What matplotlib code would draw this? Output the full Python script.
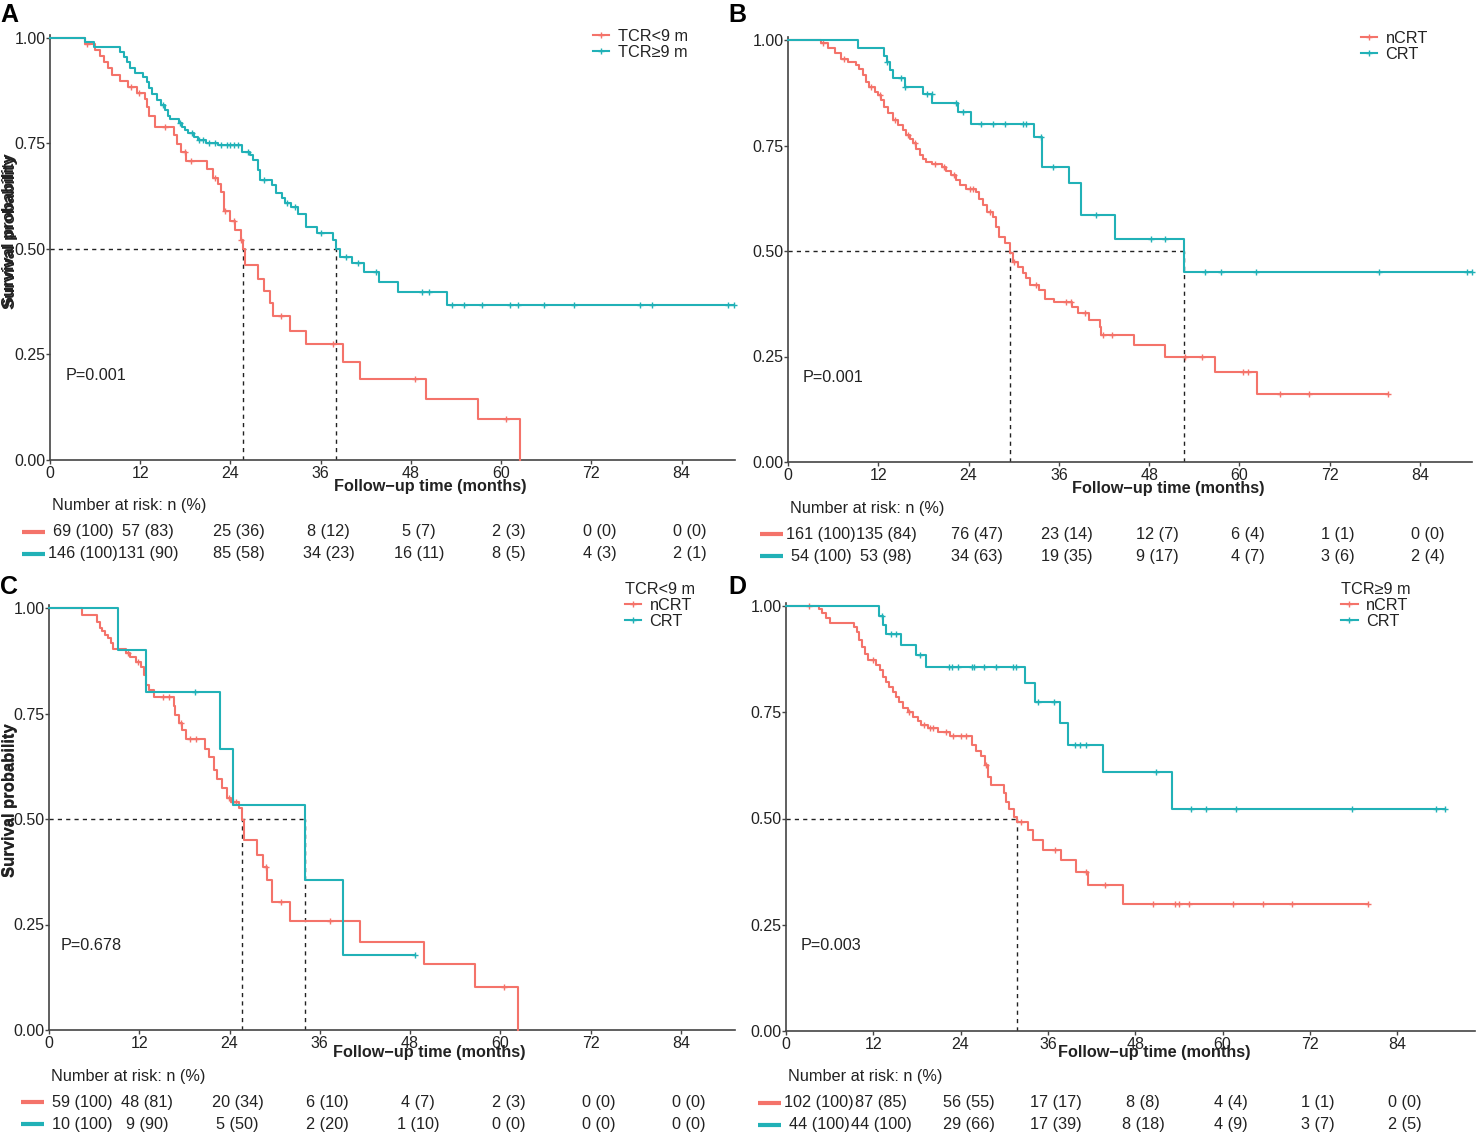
import numpy as np
import matplotlib
matplotlib.use("Agg")
import matplotlib.pyplot as plt
from matplotlib.lines import Line2D
from matplotlib.transforms import ScaledTranslation

plt.rcParams['font.family'] = ['Liberation Sans', 'DejaVu Sans']

W, H = 1477, 1137
RED = '#F4736A'
TEAL = '#21B1B7'
INK = '#222222'
FS = 11.7

risk_times = [0, 12, 24, 36, 48, 60, 72, 84]

# ---- panel A: TCR<9 m vs TCR>=9 m
a_red_t = [4.7, 6.0, 6.6, 7.2, 7.7, 8.3, 9.3, 10.4, 11.6, 12.6, 12.9, 13.2, 14.0,
           16.5, 16.9, 17.4, 18.1, 20.9, 21.7, 22.3, 22.8, 23.1, 23.9, 24.6, 25.4,
           25.7, 25.9, 27.7, 28.4, 29.2, 29.6, 31.9, 34.1, 39.0, 41.2, 50.0, 56.9, 62.5]
a_red_s = [0.986, 0.971, 0.957, 0.942, 0.928, 0.913, 0.899, 0.884, 0.870, 0.855, 0.836,
           0.816, 0.790, 0.770, 0.748, 0.730, 0.708, 0.690, 0.668, 0.654, 0.636, 0.590,
           0.566, 0.545, 0.522, 0.500, 0.462, 0.430, 0.400, 0.371, 0.341, 0.306, 0.274,
           0.233, 0.193, 0.145, 0.096, 0.0]
a_red_cens = [4.9, 10.8, 11.8, 15.3, 18.0, 18.8, 22.0, 23.3, 24.5, 25.4, 30.7, 37.7,
              48.6, 60.7]
a_teal_t = [4.7, 5.8, 9.3, 9.8, 10.3, 10.7, 11.3, 12.4, 12.9, 13.2, 13.5, 14.2, 14.8,
            15.3, 15.7, 16.0, 17.1, 17.5, 17.9, 18.4, 19.1, 19.7, 20.8, 22.4, 25.5,
            26.6, 27.0, 27.7, 27.9, 29.5, 30.1, 30.8, 31.2, 32.1, 33.0, 34.1, 35.5,
            37.7, 38.0, 38.6, 40.1, 41.7, 43.7, 46.3, 52.8]
a_teal_s = [0.991, 0.979, 0.967, 0.956, 0.944, 0.930, 0.916, 0.908, 0.896, 0.881, 0.867,
            0.853, 0.842, 0.830, 0.814, 0.808, 0.799, 0.790, 0.782, 0.774, 0.766, 0.758,
            0.752, 0.746, 0.730, 0.722, 0.711, 0.687, 0.664, 0.652, 0.632, 0.620, 0.608,
            0.600, 0.584, 0.552, 0.537, 0.521, 0.500, 0.482, 0.466, 0.446, 0.422, 0.399,
            0.367]
a_teal_cens = [15.0, 17.3, 18.9, 19.8, 20.3, 21.2, 22.0, 22.8, 23.5, 24.0, 24.5, 25.0,
               26.3, 28.4, 31.5, 32.6, 36.0, 39.3, 41.0, 43.4, 49.5, 50.4, 53.4, 55.1,
               57.5, 61.2, 62.2, 65.7, 69.7, 78.5, 80.0, 90.2, 91.0]
a_risk_red = ['69 (100)', '57 (83)', '25 (36)', '8 (12)', '5 (7)', '2 (3)', '0 (0)', '0 (0)']
a_risk_teal = ['146 (100)', '131 (90)', '85 (58)', '34 (23)', '16 (11)', '8 (5)', '4 (3)', '2 (1)']

# ---- panel B: nCRT vs CRT
b_red_t = [4.4, 5.3, 6.2, 7.1, 8.0, 9.1, 9.5, 10.0, 10.4, 10.8, 11.5, 12.0, 12.4, 12.8,
           13.3, 13.9, 14.6, 15.3, 15.7, 16.2, 16.6, 17.0, 17.5, 17.9, 18.4, 19.2, 20.4,
           21.0, 21.7, 22.3, 22.8, 23.7, 25.0, 25.4, 25.9, 26.5, 27.2, 27.7, 28.1, 28.8,
           29.5, 29.9, 30.5, 31.2, 31.6, 32.1, 33.4, 34.1, 35.4, 37.8, 38.5, 40.0, 41.4,
           41.6, 46.0, 50.1, 56.7, 62.3]
b_red_s = [0.994, 0.981, 0.969, 0.956, 0.948, 0.940, 0.932, 0.916, 0.901, 0.889, 0.877,
           0.869, 0.858, 0.842, 0.826, 0.810, 0.798, 0.787, 0.775, 0.765, 0.755, 0.741,
           0.727, 0.719, 0.711, 0.707, 0.699, 0.690, 0.680, 0.668, 0.656, 0.648, 0.640,
           0.624, 0.608, 0.593, 0.581, 0.557, 0.534, 0.518, 0.495, 0.475, 0.463, 0.449,
           0.435, 0.419, 0.407, 0.387, 0.379, 0.368, 0.352, 0.336, 0.320, 0.300, 0.277,
           0.248, 0.213, 0.161]
b_red_cens = [4.6, 7.5, 11.0, 12.2, 14.2, 16.0, 16.9, 19.5, 20.7, 22.0, 24.2, 24.6, 26.8,
              30.1, 33.0, 37.0, 37.6, 39.5, 41.9, 43.0, 52.8, 55.0, 60.5, 61.1, 65.4,
              69.3, 79.8]
b_teal_t = [9.3, 12.8, 13.1, 13.5, 13.9, 15.5, 17.9, 19.2, 22.6, 24.3, 32.7, 33.8, 37.4,
            38.9, 43.4, 52.6]
b_teal_s = [0.981, 0.962, 0.948, 0.929, 0.909, 0.889, 0.873, 0.850, 0.830, 0.802, 0.771,
            0.700, 0.660, 0.585, 0.529, 0.451]
b_teal_cens = [13.2, 15.0, 15.5, 18.5, 19.1, 22.3, 23.2, 25.7, 27.2, 28.8, 31.2, 31.6,
               33.6, 35.2, 40.9, 48.2, 50.1, 55.4, 57.5, 62.2, 78.5, 90.2, 90.9]
b_risk_red = ['161 (100)', '135 (84)', '76 (47)', '23 (14)', '12 (7)', '6 (4)', '1 (1)', '0 (0)']
b_risk_teal = ['54 (100)', '53 (98)', '34 (63)', '19 (35)', '9 (17)', '4 (7)', '3 (6)', '2 (4)']

# ---- panel C: TCR<9 m, nCRT vs CRT
c_red_t = [4.4, 6.4, 6.8, 7.1, 7.4, 7.8, 8.2, 8.5, 10.2, 10.8, 11.5, 12.2, 12.6, 12.9,
           13.3, 14.0, 16.6, 16.8, 17.3, 17.7, 18.2, 20.8, 21.3, 21.9, 22.4, 23.0, 23.7,
           24.2, 25.3, 25.6, 25.9, 27.7, 28.4, 29.0, 29.7, 32.1, 41.4, 49.9, 56.7, 62.3]
c_red_s = [0.983, 0.966, 0.953, 0.945, 0.936, 0.928, 0.916, 0.902, 0.893, 0.885, 0.873,
           0.861, 0.841, 0.818, 0.806, 0.790, 0.768, 0.746, 0.727, 0.711, 0.689, 0.667,
           0.648, 0.616, 0.595, 0.573, 0.549, 0.541, 0.525, 0.497, 0.450, 0.415, 0.387,
           0.355, 0.304, 0.259, 0.209, 0.156, 0.103, 0.0]
c_red_cens = [10.5, 11.8, 15.2, 15.9, 17.5, 18.8, 19.5, 23.9, 24.5, 24.9, 28.8, 30.8,
              37.4, 60.5]
c_teal_t = [9.2, 12.9, 22.7, 24.5, 34.1, 39.1]
c_teal_s = [0.900, 0.800, 0.667, 0.533, 0.356, 0.178]
c_teal_cens = [19.4, 48.6]
c_risk_red = ['59 (100)', '48 (81)', '20 (34)', '6 (10)', '4 (7)', '2 (3)', '0 (0)', '0 (0)']
c_risk_teal = ['10 (100)', '9 (90)', '5 (50)', '2 (20)', '1 (10)', '0 (0)', '0 (0)', '0 (0)']

# ---- panel D: TCR>=9 m, nCRT vs CRT
d_red_t = [4.6, 5.0, 5.5, 6.0, 9.4, 9.7, 10.1, 10.4, 10.8, 11.3, 12.4, 12.9, 13.3, 13.8,
           14.2, 14.7, 15.1, 15.6, 16.1, 16.7, 17.4, 18.1, 18.6, 19.5, 20.9, 22.5, 25.5,
           26.1, 26.8, 27.3, 27.8, 28.2, 30.0, 30.3, 30.7, 31.4, 31.7, 33.3, 33.9, 35.3,
           37.8, 39.9, 41.5, 46.3]
d_red_s = [0.993, 0.984, 0.971, 0.959, 0.951, 0.940, 0.920, 0.904, 0.888, 0.873, 0.861,
           0.849, 0.833, 0.822, 0.810, 0.798, 0.786, 0.773, 0.759, 0.750, 0.740, 0.730,
           0.720, 0.712, 0.704, 0.694, 0.673, 0.660, 0.646, 0.627, 0.598, 0.579, 0.559,
           0.540, 0.523, 0.504, 0.492, 0.473, 0.450, 0.426, 0.402, 0.375, 0.344, 0.300]
d_red_cens = [3.2, 12.0, 16.9, 19.0, 19.8, 20.2, 22.0, 23.0, 24.0, 24.8, 27.5, 32.3,
              37.0, 41.2, 43.8, 50.4, 53.5, 54.0, 55.4, 61.5, 65.6, 69.5, 80.0]
d_teal_t = [12.8, 13.3, 13.7, 15.8, 17.9, 19.3, 32.9, 34.2, 37.6, 38.8, 43.6, 53.0]
d_teal_s = [0.977, 0.955, 0.935, 0.908, 0.885, 0.857, 0.818, 0.775, 0.724, 0.673, 0.610,
            0.523]
d_teal_cens = [13.2, 14.5, 15.1, 18.4, 22.4, 22.8, 23.6, 25.5, 25.9, 27.2, 28.8, 31.2,
               31.6, 34.6, 36.9, 39.7, 40.4, 41.3, 50.9, 55.7, 57.7, 61.8, 77.8, 89.3,
               90.6]
d_risk_red = ['102 (100)', '87 (85)', '56 (55)', '17 (17)', '8 (8)', '4 (4)', '1 (1)', '0 (0)']
d_risk_teal = ['44 (100)', '44 (100)', '29 (66)', '17 (39)', '8 (18)', '4 (9)', '3 (7)', '2 (5)']


fig = plt.figure(figsize=(W / 100, H / 100), dpi=100)


def km_line(ax, t, s, cens, color):
    t = np.asarray(t)
    s = np.asarray(s)
    end = max(t[-1], max(cens))
    xs = np.concatenate([[0], t, [end]])
    ys = np.concatenate([[1.0], s, [s[-1]]])
    ax.step(xs, ys, where='post', color=color, lw=1.5, clip_on=False, zorder=3)
    idx = np.searchsorted(t, cens, side='right')
    level = np.concatenate([[1.0], s])[idx]
    ax.plot(cens, level, '+', color=color, ms=5, mew=1.0, clip_on=False, zorder=3)
    below = t[s <= 0.5]
    return below[0] if len(below) else None


def below_axis(ax, dx_px, dy_px):
    return ax.get_xaxis_transform() + ScaledTranslation(dx_px / 100, -dy_px / 100,
                                                        fig.dpi_scale_trans)


panels = [
    dict(letter='A', lpos=(0, 3), box=(50, 460, 735, 35), xmax=91.1, ppu=422,
         groups=[(a_red_t, a_red_s, a_red_cens, RED, 'TCR<9 m', a_risk_red),
                 (a_teal_t, a_teal_s, a_teal_cens, TEAL, 'TCR\u22659 m', a_risk_teal)],
         title=None, leg=(0.793, 1.014), pval='P=0.001', px=2.1, xl=(0.555, 27)),
    dict(letter='B', lpos=(728, 3), box=(788, 462, 1472, 37), xmax=90.9, ppu=422,
         groups=[(b_red_t, b_red_s, b_red_cens, RED, 'nCRT', b_risk_red),
                 (b_teal_t, b_teal_s, b_teal_cens, TEAL, 'CRT', b_risk_teal)],
         title=None, leg=(0.838, 1.014), pval='P=0.001', px=2.0, xl=(0.556, 26)),
    dict(letter='C', lpos=(0, 575), box=(49, 1030, 735, 605), xmax=91.2, ppu=422,
         groups=[(c_red_t, c_red_s, c_red_cens, RED, 'nCRT', c_risk_red),
                 (c_teal_t, c_teal_s, c_teal_cens, TEAL, 'CRT', c_risk_teal)],
         title='TCR<9 m', leg=(0.840, 1.054), pval='P=0.678', px=1.5, xl=(0.555, 22)),
    dict(letter='D', lpos=(728, 575), box=(786, 1031, 1475, 603), xmax=94.7, ppu=425,
         groups=[(d_red_t, d_red_s, d_red_cens, RED, 'nCRT', d_risk_red),
                 (d_teal_t, d_teal_s, d_teal_cens, TEAL, 'CRT', d_risk_teal)],
         title='TCR\u22659 m', leg=(0.806, 1.049), pval='P=0.003', px=2.0, xl=(0.534, 22)),
]

for p in panels:
    left, bottom, right, top = p['box']
    ax = fig.add_axes([left / W, 1 - bottom / H, (right - left) / W, (bottom - top) / H])
    ax.set_xlim(0, p['xmax'])
    ax.set_ylim(0, (bottom - top) / p['ppu'])
    ppm = (right - left) / p['xmax']

    for side in ['top', 'right']:
        ax.spines[side].set_visible(False)
    for side in ['left', 'bottom']:
        ax.spines[side].set_color('#444444')
        ax.spines[side].set_linewidth(1.2)

    ax.set_xticks(risk_times)
    ax.set_yticks([0, 0.25, 0.5, 0.75, 1.0])
    ax.set_yticklabels(['0.00', '0.25', '0.50', '0.75', '1.00'])
    ax.tick_params(axis='both', labelsize=11.5, length=3, width=1, colors='#444444',
                   labelcolor=INK)
    ax.tick_params(axis='x', pad=1)
    ax.tick_params(axis='y', pad=0)

    medians = []
    handles = []
    for t, s, cens, color, label, risk in p['groups']:
        m = km_line(ax, t, s, cens, color)
        if m is not None:
            medians.append(m)
        handles.append(Line2D([], [], color=color, lw=1.5, marker='+', ms=5, mew=1.0,
                              label=label))

    if medians:
        ax.plot([0, max(medians)], [0.5, 0.5], ls=(0, (3, 3)), color=INK, lw=1, zorder=2)
        for m in medians:
            ax.plot([m, m], [0, 0.5], ls=(0, (3, 3)), color=INK, lw=1, zorder=2)

    leg = ax.legend(handles=handles, loc='upper left', bbox_to_anchor=p['leg'],
                    frameon=False, borderpad=0, borderaxespad=0, handlelength=1.0,
                    handletextpad=0.5, labelspacing=0.05, fontsize=FS,
                    title=p['title'], title_fontsize=FS, alignment='left')
    for txt in leg.get_texts():
        txt.set_color(INK)
    if p['title']:
        leg.get_title().set_color(INK)

    ax.text(p['px'], 0.20, p['pval'], fontsize=FS, color=INK, va='center', ha='left')

    ax.text(-(left - 10) / (right - left), 0.54, 'Survival probability',
            transform=ax.transAxes, rotation=90, ha='center', va='center',
            fontsize=12, fontweight='bold', color=INK)
    ax.text(p['xl'][0], 0, 'Follow\u2212up time (months)', ha='center', va='center',
            transform=below_axis(ax, 0, p['xl'][1]) - ax.get_xaxis_transform()
            + ax.transAxes, fontsize=FS, fontweight='bold', color=INK)

    # number at risk table
    ax.text(0, 0, 'Number at risk: n (%)', transform=below_axis(ax, 2, 46),
            ha='left', va='center', fontsize=FS, color=INK)
    for row, (t, s, cens, color, label, risk) in enumerate(p['groups']):
        dy = 72 + 22 * row
        ax.plot([-28 / ppm, -5 / ppm], [0, 0], color=color, lw=3,
                transform=below_axis(ax, 0, dy), clip_on=False, solid_capstyle='butt')
        for k, (tt, val) in enumerate(zip(risk_times, risk)):
            dx = 33 if k == 0 else 8
            ax.text(tt, 0, val, transform=below_axis(ax, dx, dy), ha='center',
                    va='center', fontsize=FS, color=INK)

    fig.text(p['lpos'][0] / W, 1 - p['lpos'][1] / H, p['letter'], ha='left', va='top',
             fontsize=18, fontweight='bold', color='black')

fig.savefig('out.png', dpi=100)
